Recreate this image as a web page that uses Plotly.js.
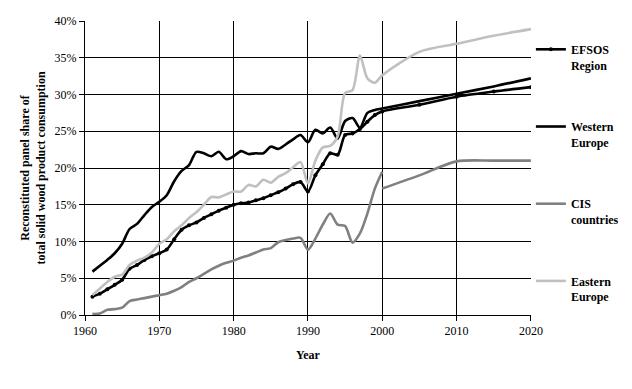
<!DOCTYPE html>
<html>
<head>
<meta charset="utf-8">
<script src="https://cdn.plot.ly/plotly-3.0.1.min.js"></script>
<style>
  html, body { margin: 0; padding: 0; background: #ffffff; }
  #chart { width: 632px; height: 389px; }
</style>
</head>
<body>
<div id="chart"></div>
<script>
// Historical years (annual) and projection years
const histYears = [1961,1962,1963,1964,1965,1966,1967,1968,1969,1970,
                   1971,1972,1973,1974,1975,1976,1977,1978,1979,1980,
                   1981,1982,1983,1984,1985,1986,1987,1988,1989,1990,
                   1991,1992,1993,1994,1995,1996,1997,1998,1999,2000];
const projYears = [2000,2005,2010,2015,2020];

// Shares in percent
const efsosHist = [2.5,2.9,3.5,4.1,4.8,6.3,6.8,7.5,8.0,8.4,
                   8.9,10.3,11.6,12.2,12.6,13.2,13.7,14.2,14.6,15.0,
                   15.2,15.3,15.6,15.9,16.3,16.7,17.2,17.8,18.1,16.8,
                   19.0,20.5,22.0,21.8,24.5,24.7,25.3,26.3,27.2,27.7];
const efsosProj = [27.7,28.6,29.7,30.4,31.0];

const westHist = [5.9,6.7,7.5,8.4,9.7,11.7,12.4,13.6,14.7,15.4,
                  16.3,18.2,19.6,20.4,22.2,22.0,21.6,22.2,21.2,21.6,
                  22.3,21.9,22.0,22.0,22.9,22.6,23.2,23.9,24.5,23.5,
                  25.2,24.7,25.5,24.0,26.4,26.8,25.5,27.5,27.9,28.1];
const westProj = [28.1,29.1,30.1,31.1,32.2];

const cisHist = [0.15,0.2,0.7,0.8,1.0,1.9,2.1,2.3,2.5,2.7,
                 2.9,3.3,3.8,4.5,5.0,5.6,6.2,6.7,7.1,7.4,
                 7.8,8.1,8.5,8.9,9.1,9.9,10.2,10.4,10.5,8.9,
                 10.4,12.3,13.8,12.3,12.1,9.85,11.1,13.8,17.2,19.5];
const cisProj = [17.2,19.0,20.9,21.0,21.0];

const eastHist = [2.7,3.6,4.5,5.2,5.5,6.8,7.4,7.8,8.5,9.7,
                  10.3,11.4,12.2,13.2,14.0,15.0,16.05,16.0,16.4,16.8,
                  16.8,17.7,17.5,18.4,18.0,18.8,19.3,20.1,20.8,17.9,
                  21.0,22.8,23.0,24.3,30.2,30.6,35.3,32.2,31.6,32.6];
const eastProj = [32.6,35.8,36.9,38.0,38.9];

const seriesNames = ['EFSOS<br>Region','Western<br>Europe','CIS<br>countries','Eastern<br>Europe'];

function joined(hist, proj) {
  return { x: histYears.concat(projYears.slice(1)), y: hist.concat(proj.slice(1)) };
}
function gapped(hist, proj) {
  return { x: histYears.concat([2000]).concat(projYears), y: hist.concat([null]).concat(proj) };
}

const efsos = joined(efsosHist, efsosProj);
const west = joined(westHist, westProj);
const cis = gapped(cisHist, cisProj);
const east = joined(eastHist, eastProj);

const lineShape = {shape: 'spline', smoothing: 0.8, width: 2.6};

const traces = [
  {x: efsos.x, y: efsos.y, name: seriesNames[0], mode: 'lines+markers', legendgroup: 'a',
   line: Object.assign({}, lineShape, {color: '#000000'}),
   marker: {color: '#000000', size: 4, symbol: 'circle'}},
  {x: west.x, y: west.y, name: seriesNames[1], mode: 'lines', legendgroup: 'b',
   line: Object.assign({}, lineShape, {color: '#000000'})},
  {x: cis.x, y: cis.y, name: seriesNames[2], mode: 'lines', legendgroup: 'c', connectgaps: false,
   line: Object.assign({}, lineShape, {color: '#808080'})},
  {x: east.x, y: east.y, name: seriesNames[3], mode: 'lines', legendgroup: 'd',
   line: Object.assign({}, lineShape, {color: '#c0c0c0'})}
];

const font = {family: '"Liberation Serif", "Times New Roman", serif', size: 12, color: '#000000'};

const layout = {
  width: 632, height: 389,
  margin: {l: 85, r: 100, t: 21, b: 74, pad: 0},
  paper_bgcolor: '#ffffff', plot_bgcolor: '#ffffff',
  font: font,
  showlegend: true,
  legend: {
    xref: 'container', x: 0.84, xanchor: 'left',
    yref: 'container', y: 0.91, yanchor: 'top',
    maxheight: 360,
    tracegroupgap: 43, valign: 'top',
    font: {family: font.family, size: 12, color: '#000000', weight: 'bold'},
    bgcolor: 'rgba(0,0,0,0)'
  },
  xaxis: {
    range: [1960, 2020], dtick: 10, tick0: 1960,
    showgrid: true, gridcolor: '#000000', gridwidth: 1,
    showline: true, linecolor: '#000000', linewidth: 1,
    ticks: 'outside', ticklen: 5, tickcolor: '#000000',
    zeroline: false,
    tickfont: font,
    title: {text: '<b>Year</b>', font: font, standoff: 13}
  },
  yaxis: {
    range: [0, 40], dtick: 5, tick0: 0, ticksuffix: '%',
    showgrid: true, gridcolor: '#000000', gridwidth: 1,
    showline: true, linecolor: '#000000', linewidth: 1,
    ticks: 'outside', ticklen: 5, tickcolor: '#000000',
    zeroline: false,
    tickfont: font,
    title: {text: '<b>Reconstituted panel share of<br>total solid wood product consumption</b>', font: font, standoff: 6}
  }
};

Plotly.newPlot('chart', traces, layout, {displayModeBar: false, staticPlot: true});
</script>
</body>
</html>
